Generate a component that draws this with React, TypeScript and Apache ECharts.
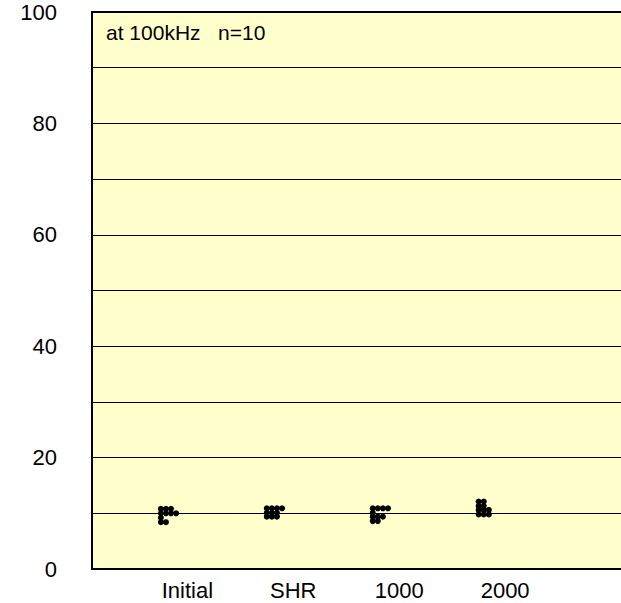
import React, { useEffect, useRef } from "react";
import * as echarts from "echarts";

const categories = ["Initial", "SHR", "1000", "2000"];
const initialValues = [10.8, 10.8, 10.8, 10.0, 10.0, 10.0, 10.0, 9.2, 8.4, 8.4];
const shrValues = [10.9, 10.9, 10.9, 10.9, 10.1, 10.1, 10.1, 9.4, 9.4, 9.4];
const k1000Values = [10.9, 10.9, 10.9, 10.9, 10.1, 9.4, 9.4, 9.4, 8.6, 8.6];
const k2000Values = [12.1, 12.1, 11.3, 11.3, 10.6, 10.6, 10.6, 9.8, 9.8, 9.8];
const yTicks = [0, 20, 40, 60, 80, 100];
const noteText = "at 100kHz   n=10";

const allSeries = [initialValues, shrValues, k1000Values, k2000Values];

function buildPoints(): number[][] {
  const pts: number[][] = [];
  allSeries.forEach((vals, ci) => {
    const counts: Record<string, number> = {};
    vals.forEach((v) => {
      const key = v.toFixed(2);
      const k = counts[key] || 0;
      counts[key] = k + 1;
      pts.push([ci + 1 - 0.25 + k * 0.048, v]);
    });
  });
  return pts;
}

export default function App() {
  const ref = useRef<HTMLDivElement>(null);
  useEffect(() => {
    if (!ref.current) return;
    const chart = echarts.init(ref.current, null, { renderer: "svg" });
    const font = "Liberation Sans, Arial, sans-serif";
    chart.setOption({
      animation: false,
      backgroundColor: "#ffffff",
      grid: {
        left: 92,
        top: 12,
        bottom: 34,
        width: 625,
        show: true,
        backgroundColor: "#FFFFCC",
        borderColor: "#000",
        borderWidth: 2,
      },
      xAxis: {
        type: "value",
        min: 0.1,
        max: 6,
        interval: 0.1,
        axisLine: { show: true, lineStyle: { color: "#000", width: 2 } },
        axisTick: { show: false },
        splitLine: { show: false },
        axisLabel: {
          color: "#000",
          fontSize: 22,
          fontFamily: font,
          margin: 10,
          formatter: (v: number) => {
            const r = Math.round(v);
            if (Math.abs(v - r) > 1e-6) return "";
            const i = r - 1;
            return i >= 0 && i < categories.length ? categories[i] : "";
          },
        },
      },
      yAxis: {
        type: "value",
        min: 0,
        max: 100,
        interval: 10,
        axisLine: { show: true, lineStyle: { color: "#000", width: 2 } },
        axisTick: { show: false },
        splitLine: { show: true, lineStyle: { color: "#000", width: 1 } },
        axisLabel: {
          color: "#000",
          fontSize: 22,
          fontFamily: font,
          margin: 35,
          formatter: (v: number) => (yTicks.includes(v) ? String(v) : ""),
        },
      },
      graphic: [
        {
          type: "text",
          left: 106,
          top: 22,
          style: { text: noteText, fontSize: 21, fontFamily: font, fill: "#000" },
        },
      ],
      series: [
        {
          type: "scatter",
          data: buildPoints(),
          symbol: "circle",
          symbolSize: 6,
          itemStyle: { color: "#000", opacity: 1 },
        },
      ],
    });
    return () => chart.dispose();
  }, []);
  return (
    <div
      ref={ref}
      style={{ position: "fixed", left: 0, top: 0, width: 740, height: 603 }}
    />
  );
}
